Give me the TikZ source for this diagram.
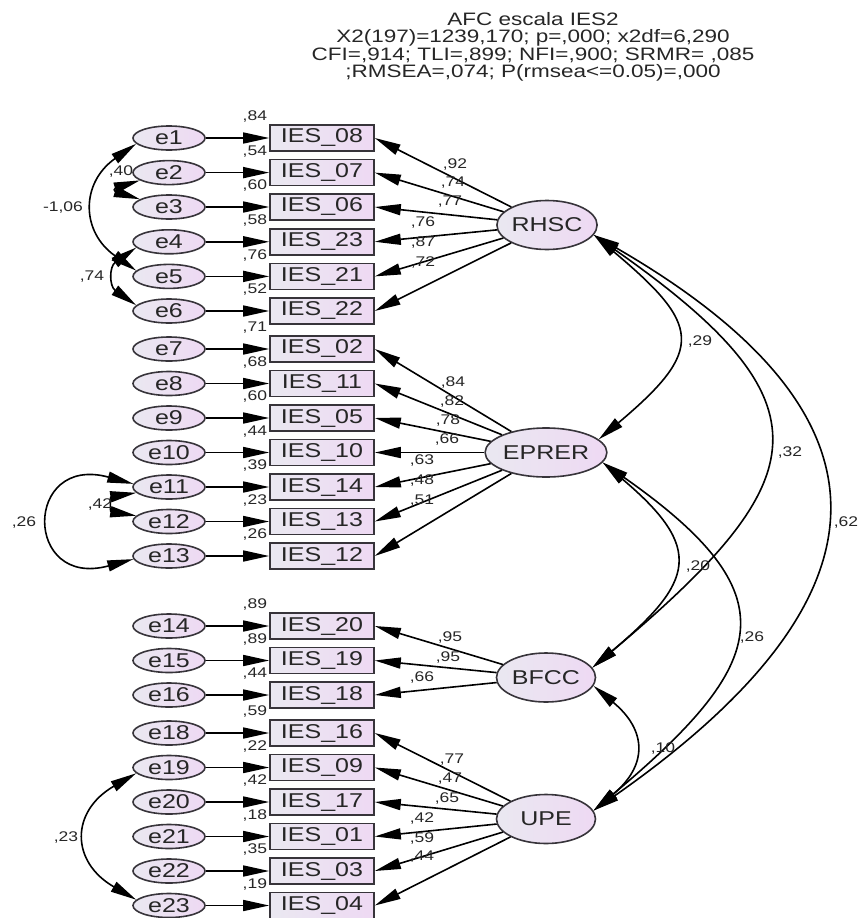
\documentclass[tikz,border=0pt]{standalone}
\usepackage{fontspec}
\setmainfont{Liberation Sans}[FakeStretch=1.25]
\usetikzlibrary{arrows,arrows.meta,positioning,calc,shapes.geometric}

\definecolor{lavleft}{RGB}{234,232,241}
\definecolor{lavright}{RGB}{238,217,243}
\definecolor{rim}{RGB}{55,52,58}

\begin{document}
\begin{tikzpicture}[x=1pt,y=-1pt]
        \tikzstyle{every node}=[text=black!85]
        \tikzstyle{obs}=[rectangle,draw=rim,line width=1.6pt,left color=lavleft,right color=lavright,minimum width=104pt,minimum height=26pt,inner sep=0pt,font=\fontsize{20}{24}\selectfont]
        \tikzstyle{err}=[ellipse,draw=rim,line width=1.6pt,left color=lavleft,right color=lavright,minimum width=72pt,minimum height=24pt,inner sep=0pt,font=\fontsize{20}{24}\selectfont]
        \tikzstyle{lat}=[ellipse,draw=rim,line width=1.6pt,left color=lavleft,right color=lavright,minimum width=99pt,minimum height=49pt,inner sep=0pt,font=\fontsize{20}{24}\selectfont]
        \tikzstyle{num}=[inner sep=1pt,font=\fontsize{14}{16}\selectfont]
        \tikzstyle{arr}=[-{Triangle[length=26pt,width=11pt]},line width=1.6pt,black]
        \tikzstyle{cov}=[{Triangle[length=26pt,width=11pt]}-{Triangle[length=26pt,width=11pt]},line width=1.6pt,black]

        \useasboundingbox (0,0) rectangle (861,918);

        \node[align=center,font=\fontsize{18}{17.5}\selectfont] (title) at (533,47) {AFC escala IES2\\X2(197)=1239,170; p=,000; x2df=6,290\\CFI=,914; TLI=,899; NFI=,900; SRMR= ,085\\;RMSEA=,074; P(rmsea<=0.05)=,000};

        %%% Items
        \node[obs,label={[num,label distance=1pt]north west:,84}] (i08) at (322,138) {IES\_08};
        \node[obs,label={[num,label distance=1pt]north west:,54}] (i07) at (322,172.6) {IES\_07};
        \node[obs,label={[num,label distance=1pt]north west:,60}] (i06) at (322,207) {IES\_06};
        \node[obs,label={[num,label distance=1pt]north west:,58}] (i23) at (322,241.8) {IES\_23};
        \node[obs,label={[num,label distance=1pt]north west:,76}] (i21) at (322,276.4) {IES\_21};
        \node[obs,label={[num,label distance=1pt]north west:,52}] (i22) at (322,311) {IES\_22};
        \node[obs,label={[num,label distance=1pt]north west:,71}] (i02) at (322,349) {IES\_02};
        \node[obs,label={[num,label distance=1pt]north west:,68}] (i11) at (322,383.5) {IES\_11};
        \node[obs,label={[num,label distance=1pt]north west:,60}] (i05) at (322,418) {IES\_05};
        \node[obs,label={[num,label distance=1pt]north west:,44}] (i10) at (322,452.5) {IES\_10};
        \node[obs,label={[num,label distance=1pt]north west:,39}] (i14) at (322,487) {IES\_14};
        \node[obs,label={[num,label distance=1pt]north west:,23}] (i13) at (322,521.5) {IES\_13};
        \node[obs,label={[num,label distance=1pt]north west:,26}] (i12) at (322,556) {IES\_12};
        \node[obs,label={[num,label distance=1pt]north west:,89}] (i20) at (322,626) {IES\_20};
        \node[obs,label={[num,label distance=1pt]north west:,89}] (i19) at (322,660.5) {IES\_19};
        \node[obs,label={[num,label distance=1pt]north west:,44}] (i18) at (322,695) {IES\_18};
        \node[obs,label={[num,label distance=1pt]north west:,59}] (i16) at (322,733) {IES\_16};
        \node[obs,label={[num,label distance=1pt]north west:,22}] (i09) at (322,767.5) {IES\_09};
        \node[obs,label={[num,label distance=1pt]north west:,42}] (i17) at (322,802) {IES\_17};
        \node[obs,label={[num,label distance=1pt]north west:,18}] (i01) at (322,836.5) {IES\_01};
        \node[obs,label={[num,label distance=1pt]north west:,35}] (i03) at (322,871) {IES\_03};
        \node[obs,label={[num,label distance=1pt]north west:,19}] (i04) at (322,905.5) {IES\_04};

        %%% Errors
        \node[err] (e1) at (169,138) {e1};
        \node[err] (e2) at (169,172.6) {e2};
        \node[err] (e3) at (169,207) {e3};
        \node[err] (e4) at (169,241.8) {e4};
        \node[err] (e5) at (169,276.4) {e5};
        \node[err] (e6) at (169,311) {e6};
        \node[err] (e7) at (169,349) {e7};
        \node[err] (e8) at (169,383.5) {e8};
        \node[err] (e9) at (169,418) {e9};
        \node[err] (e10) at (169,452.5) {e10};
        \node[err] (e11) at (169,487) {e11};
        \node[err] (e12) at (169,521.5) {e12};
        \node[err] (e13) at (169,556) {e13};
        \node[err] (e14) at (169,626) {e14};
        \node[err] (e15) at (169,660.5) {e15};
        \node[err] (e16) at (169,695) {e16};
        \node[err] (e18) at (169,733) {e18};
        \node[err] (e19) at (169,767.5) {e19};
        \node[err] (e20) at (169,802) {e20};
        \node[err] (e21) at (169,836.5) {e21};
        \node[err] (e22) at (169,871) {e22};
        \node[err] (e23) at (169,905.5) {e23};

        %%% Factors
        \node[lat] (RHSC) at (547,225) {RHSC};
        \node[lat] (EPRER) at (546,452.5) {EPRER};
        \node[lat] (BFCC) at (546,677.5) {BFCC};
        \node[lat] (UPE) at (546,819) {UPE};

        \draw[arr] (e1) edge (i08);
        \draw[arr] (e2) edge (i07);
        \draw[arr] (e3) edge (i06);
        \draw[arr] (e4) edge (i23);
        \draw[arr] (e5) edge (i21);
        \draw[arr] (e6) edge (i22);
        \draw[arr] (e7) edge (i02);
        \draw[arr] (e8) edge (i11);
        \draw[arr] (e9) edge (i05);
        \draw[arr] (e10) edge (i10);
        \draw[arr] (e11) edge (i14);
        \draw[arr] (e12) edge (i13);
        \draw[arr] (e13) edge (i12);
        \draw[arr] (e14) edge (i20);
        \draw[arr] (e15) edge (i19);
        \draw[arr] (e16) edge (i18);
        \draw[arr] (e18) edge (i16);
        \draw[arr] (e19) edge (i09);
        \draw[arr] (e20) edge (i17);
        \draw[arr] (e21) edge (i01);
        \draw[arr] (e22) edge (i03);
        \draw[arr] (e23) edge (i04);

        %%% Loadings
        \draw[arr] (RHSC) edge (i08.east);
        \draw[arr] (RHSC) edge (i07.east);
        \draw[arr] (RHSC) edge (i06.east);
        \draw[arr] (RHSC) edge (i23.east);
        \draw[arr] (RHSC) edge (i21.east);
        \draw[arr] (RHSC) edge (i22.east);
        \node[num] (w08) at (455,165) {,92};
        \node[num] (w07) at (453,183) {,74};
        \node[num] (w06) at (450,202) {,77};
        \node[num] (w23) at (423,223) {,76};
        \node[num] (w21) at (423,243) {,87};
        \node[num] (w22) at (423,263) {,72};

        \draw[arr] (EPRER) edge (i02.east);
        \draw[arr] (EPRER) edge (i11.east);
        \draw[arr] (EPRER) edge (i05.east);
        \draw[arr] (EPRER) edge (i10.east);
        \draw[arr] (EPRER) edge (i14.east);
        \draw[arr] (EPRER) edge (i13.east);
        \draw[arr] (EPRER) edge (i12.east);
        \node[num] (w02) at (453,383) {,84};
        \node[num] (w11) at (452,402) {,82};
        \node[num] (w05) at (448,421) {,78};
        \node[num] (w10) at (447,440) {,66};
        \node[num] (w14) at (422,461) {,63};
        \node[num] (w13) at (422,481) {,48};
        \node[num] (w12) at (422,501) {,51};

        \draw[arr] (BFCC) edge (i20.east);
        \draw[arr] (BFCC) edge (i19.east);
        \draw[arr] (BFCC) edge (i18.east);
        \node[num] (w20) at (450,637) {,95};
        \node[num] (w19) at (448,657) {,95};
        \node[num] (w18) at (422,677) {,66};

        \draw[arr] (UPE) edge (i16.east);
        \draw[arr] (UPE) edge (i09.east);
        \draw[arr] (UPE) edge (i17.east);
        \draw[arr] (UPE) edge (i01.east);
        \draw[arr] (UPE) edge (i03.east);
        \draw[arr] (UPE) edge (i04.east);
        \node[num] (w16) at (452,760) {,77};
        \node[num] (w09) at (450,779) {,47};
        \node[num] (w17) at (447,798) {,65};
        \node[num] (w01) at (422,818) {,42};
        \node[num] (w03) at (422,838) {,59};
        \node[num] (w04) at (422,857) {,44};

        %%% Error covariances
        \draw[cov] (e1.190) .. controls +(-55.6,38.9) and +(-55.6,-38.9) .. (e5.170);
        \draw[cov] (e2.195) .. controls +(-26,8) and +(-26,-8) .. (e3.165);
        \draw[cov] (e4.190) .. controls +(-27,19) and +(-27,-19) .. (e6.170);
        \draw[cov] (e11.190) .. controls +(-26,4) and +(-26,-4) .. (e12.170);
        \draw[cov] (e11.175) .. controls +(-110,-30) and +(-110,30) .. (e13.185);
        \draw[cov] (e19.190) .. controls +(-65.8,38) and +(-65.8,-38) .. (e23.170);
        \node[num] (c15) at (63,208) {-1,06};
        \node[num] (c23) at (121,172) {,40};
        \node[num] (c46) at (92,277) {,74};
        \node[num] (c1112) at (100,505) {,42};
        \node[num] (c1113) at (24,523) {,26};
        \node[num] (c1923) at (66,837) {,23};

        %%% Factor covariances
        \draw[cov] (RHSC.-12) .. controls +(107,90) and +(107,-90) .. (EPRER.14);
        \draw[cov] (RHSC.-12) .. controls +(240.6,168.5) and +(225,-188.9) .. (BFCC.12);
        \draw[cov] (RHSC.-12) .. controls +(317.6,183.4) and +(300.4,-210.3) .. (UPE.10);
        \draw[cov] (EPRER.-10) .. controls +(102,86) and +(102,-86) .. (BFCC.12);
        \draw[cov] (EPRER.-10) .. controls +(189,132.4) and +(176.8,-148.4) .. (UPE.10);
        \draw[cov] (BFCC.-10) .. controls +(54,45) and +(54,-45) .. (UPE.10);
        \node[num] (f12) at (700,342) {,29};
        \node[num] (f13) at (790,453) {,32};
        \node[num] (f14) at (846,523) {,62};
        \node[num] (f23) at (698,567) {,20};
        \node[num] (f24) at (752,637) {,26};
        \node[num] (f34) at (663,748) {,10};
\end{tikzpicture}
\end{document}
